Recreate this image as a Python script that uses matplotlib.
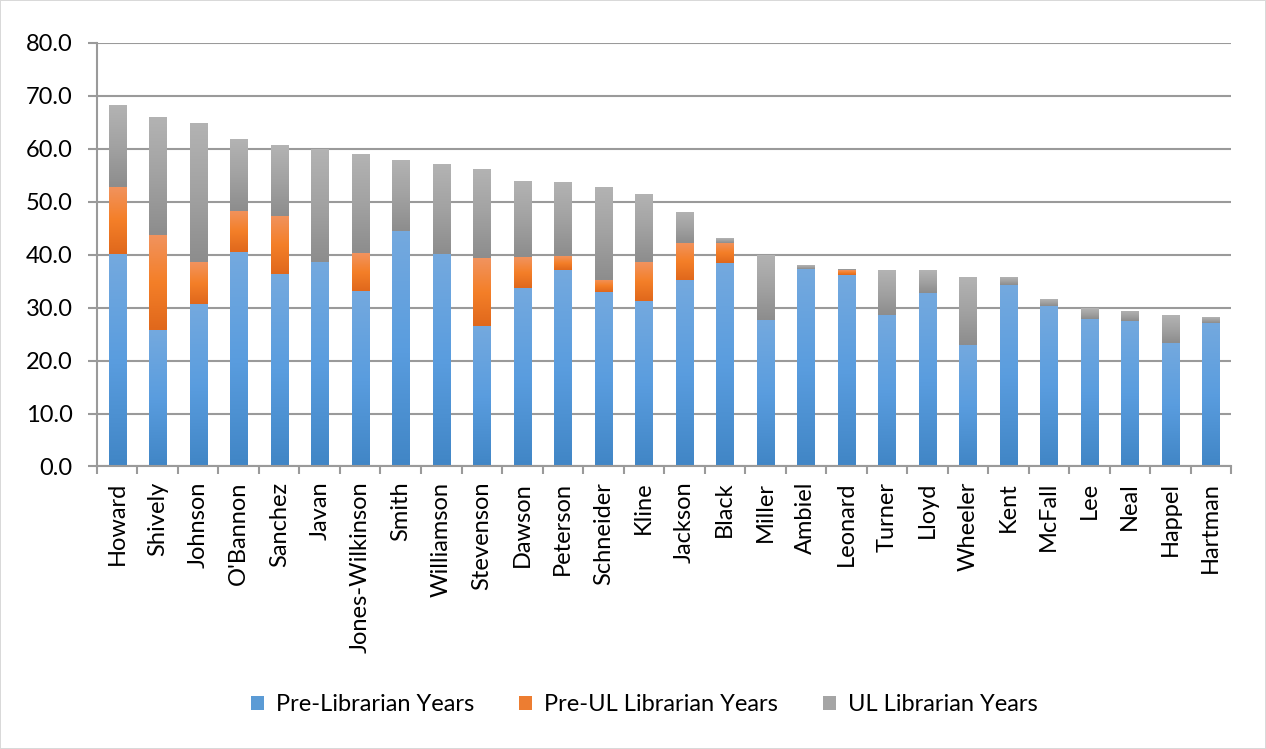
import numpy as np
import matplotlib
matplotlib.use("Agg")
from matplotlib import pyplot as plt
from matplotlib.colors import LinearSegmentedColormap
from matplotlib.patches import Patch

# ---------------- data ----------------
names = ["Howard", "Shively", "Johnson", "O'Bannon", "Sanchez", "Javan",
         "Jones-Wilkinson", "Smith", "Williamson", "Stevenson", "Dawson",
         "Peterson", "Schneider", "Kline", "Jackson", "Black", "Miller",
         "Ambiel", "Leonard", "Turner", "Lloyd", "Wheeler", "Kent",
         "McFall", "Lee", "Neal", "Happel", "Hartman"]

pre_librarian = [40.1, 25.7, 30.7, 40.5, 36.3, 38.6, 33.2, 44.4, 40.1, 26.5,
                 33.7, 37.1, 32.9, 31.3, 35.2, 38.4, 27.7, 37.3, 36.2, 28.7,
                 32.8, 23.0, 34.3, 30.3, 27.9, 27.5, 23.4, 27.1]
pre_ul_librarian = [12.7, 18.0, 7.9, 7.8, 11.1, 0.0, 7.1, 0.0, 0.0, 12.8,
                    5.8, 2.6, 2.3, 7.3, 7.0, 3.8, 0.0, 0.0, 0.9, 0.0,
                    0.0, 0.0, 0.0, 0.0, 0.0, 0.0, 0.0, 0.0]
ul_librarian = [15.4, 22.3, 26.3, 13.6, 13.3, 21.4, 18.7, 13.5, 17.0, 16.9,
                14.5, 14.1, 17.6, 12.9, 5.9, 0.9, 12.3, 0.7, 0.2, 8.4,
                4.3, 12.7, 1.4, 1.3, 2.0, 1.9, 5.2, 1.1]

series_labels = ["Pre-Librarian Years", "Pre-UL Librarian Years", "UL Librarian Years"]

# gradient colours (top, middle, bottom) for each series
grads = [
    ["#74a9de", "#5a9ddf", "#4186c6"],
    ["#f1935e", "#f47f28", "#e0681c"],
    ["#b3b3b3", "#a2a2a2", "#8d8d8d"],
]
solid = ["#5b9bd5", "#ed7d31", "#a5a5a5"]

plt.rcParams["font.family"] = ["Lato", "DejaVu Sans"]

fig = plt.figure(figsize=(12.66, 7.49), dpi=100, linewidth=1.2,
                 edgecolor="#d9d9d9")
ax = fig.add_axes([0.0766, 0.3772, 0.9724 - 0.0766, 0.9426 - 0.3772])

x = np.arange(len(names))
width = 0.43
bottom = np.zeros(len(names))
containers = []
for vals, g in zip([pre_librarian, pre_ul_librarian, ul_librarian], grads):
    vals = np.array(vals)
    bc = ax.bar(x, vals, width, bottom=bottom, color="none", zorder=2)
    containers.append((bc, g))
    bottom = bottom + vals

# fill each bar segment with a vertical gradient, light at the top
grad_img = np.linspace(1, 0, 64).reshape(-1, 1)
for bc, g in containers:
    cmap = LinearSegmentedColormap.from_list("g", g[::-1])
    for p in bc.patches:
        h = p.get_height()
        if h <= 0:
            continue
        x0 = p.get_x()
        y0 = p.get_y()
        im = ax.imshow(grad_img, cmap=cmap, aspect="auto", vmin=0, vmax=1,
                       extent=[x0, x0 + p.get_width(), y0, y0 + h],
                       origin="upper", zorder=2, interpolation="bilinear")
        im.set_clip_path(p)

ax.set_xlim(-0.5, len(names) - 0.5)
ax.set_ylim(0, 80)

# grid & axes style
ax.set_yticks(np.arange(0, 81, 10))
ax.set_yticklabels([f"{v:.1f}" for v in np.arange(0, 81, 10)], fontsize=17)
ax.yaxis.grid(True, color="#9a9a9a", linewidth=1.5, zorder=0)
ax.set_axisbelow(True)
for s in ["top", "right"]:
    ax.spines[s].set_visible(False)
ax.spines["left"].set_color("#9a9a9a")
ax.spines["bottom"].set_color("#9a9a9a")
ax.spines["left"].set_linewidth(1.5)
ax.spines["bottom"].set_linewidth(1.5)

ax.set_xticks(x)
ax.set_xticklabels(names, rotation=90, fontsize=17)
ax.tick_params(axis="x", length=0, pad=11)
ax.set_xticks(np.arange(-0.5, len(names), 1), minor=True)
ax.tick_params(axis="x", which="minor", length=6, color="#9a9a9a", width=1.5)
ax.tick_params(axis="y", length=6.5, color="#9a9a9a", width=1.5, pad=11)

handles = [Patch(facecolor=c, edgecolor="none") for c in solid]
fig.legend(handles, series_labels, loc="center", bbox_to_anchor=(0.509, 0.059),
           ncol=3, frameon=False, fontsize=17, handlelength=0.55,
           handleheight=0.55, handletextpad=0.5, columnspacing=1.9)

fig.savefig("out.png", dpi=100)
